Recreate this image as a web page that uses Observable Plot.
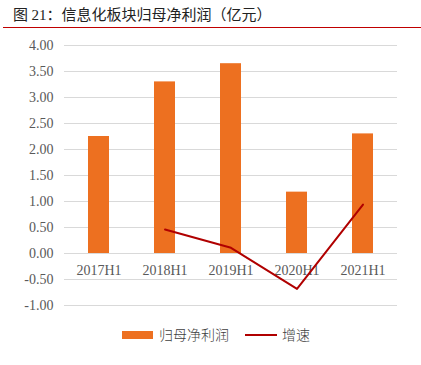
<!DOCTYPE html>
<html><head><meta charset="utf-8">
<script src="https://cdn.jsdelivr.net/npm/d3@7"></script>
<script src="https://cdn.jsdelivr.net/npm/@observablehq/plot@0.6"></script>
<style>
body{margin:0;background:#fff;width:421px;height:365px;overflow:hidden;position:relative;}
#title{position:absolute;left:13px;top:3px;font-family:"Noto Sans CJK SC";font-size:15px;color:#222;white-space:nowrap;}
#title .n{font-family:"Liberation Serif",serif;}
#rule{position:absolute;left:3px;top:27px;width:418px;height:1px;background:#c00000;}
#chart{position:absolute;left:0;top:30px;}
#legend{position:absolute;left:0;top:324px;width:421px;height:20px;font-family:"Noto Sans CJK SC";font-size:14px;font-weight:300;color:#404040;}
</style></head><body>
<div id="title">图 <span class="n">21</span>：信息化板块归母净利润（亿元）</div>
<div id="rule"></div>
<div id="chart"></div>
<div id="legend">
  <div style="position:absolute;left:122px;top:7px;width:31px;height:8px;background:#ed7020"></div>
  <div style="position:absolute;left:159px;top:0px;">归母净利润</div>
  <div style="position:absolute;left:245px;top:10px;width:32px;height:2px;background:#b00000"></div>
  <div style="position:absolute;left:282px;top:0px;">增速</div>
</div>
<script>
const categories = ["2017H1","2018H1","2019H1","2020H1","2021H1"];
const profit = [2.25, 3.30, 3.65, 1.18, 2.30];
const growth = [null, 0.46, 0.11, -0.68, 0.94];
const yTicks = [-1, -0.5, 0, 0.5, 1, 1.5, 2, 2.5, 3, 3.5, 4];

const bars = categories.map((c,i)=>({cat:c, v:profit[i]}));
const line = categories.map((c,i)=>({cat:c, g:growth[i]})).filter(d=>d.g!==null);

const chart = Plot.plot({
  width: 421, height: 290,
  marginTop: 15, marginBottom: 15, marginLeft: 64, marginRight: 24,
  style: {fontFamily: "'Liberation Serif', serif", fontSize: "14px", color: "#595959", background: "transparent"},
  x: {domain: categories, paddingInner: 0.68, paddingOuter: 0.34, axis: null},
  y: {domain: [-1, 4], axis: null},
  marks: [
    Plot.ruleY(yTicks, {stroke: "#d9d9d9", strokeWidth: 1}),
    Plot.axisY(yTicks, {tickFormat: d => d.toFixed(2), tickSize: 0, tickPadding: 11, label: null, fill: "#595959", fontSize: 14}),
    Plot.barY(bars, {x: "cat", y: "v", fill: "#ed7020"}),
    Plot.text(categories, {x: d => d, y: 0, dy: 17, text: d => d, fill: "#595959", fontSize: 14}),
    Plot.line(line, {x: "cat", y: "g", stroke: "#b00000", strokeWidth: 2})
  ]
});
document.getElementById("chart").appendChild(chart);
</script>
</body></html>
